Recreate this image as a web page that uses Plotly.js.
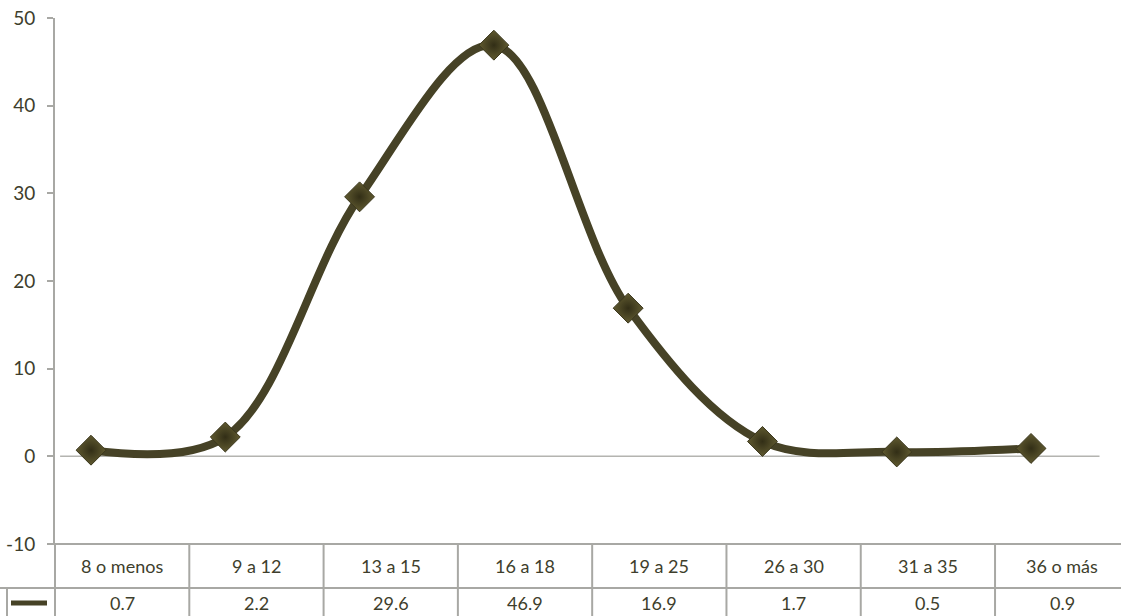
<!DOCTYPE html>
<html>
<head>
<meta charset="utf-8">
<script src="https://cdn.plot.ly/plotly-3.0.1.min.js"></script>
<style>html,body{margin:0;padding:0;background:#fff;}#chart{width:1121px;height:616px;}</style>
</head>
<body>
<div id="chart"></div>
<script>
// Data
const categories = ["8 o menos", "9 a 12", "13 a 15", "16 a 18", "19 a 25", "26 a 30", "31 a 35", "36 o más"];
const values = [0.7, 2.2, 29.6, 46.9, 16.9, 1.7, 0.5, 0.9];
const valueLabels = ["0.7", "2.2", "29.6", "46.9", "16.9", "1.7", "0.5", "0.9"];
const yTicks = [-10, 0, 10, 20, 30, 40, 50];

// Layout geometry (pixels)
const W = 1121, H = 616;
const mL = 55, mR = 0, mT = 18, mB = 72;
const plotH = H - mT - mB;
const plotW = W - mL - mR;
const pyToPaper = py => (H - mB - py) / plotH;
const pxToPaper = px => (px - mL) / plotW;

const lineColor = "rgb(70,66,38)";
const gridGray = "#a8a8a4";
const textColor = "rgb(62,62,44)";
const fontFam = "Lato, 'Open Sans', sans-serif";
const colOffset = 0.232; // table cell centre relative to category point

const xIdx = categories.map((c, i) => i);

const trace = {
  x: xIdx,
  y: values,
  type: "scatter",
  mode: "lines+markers",
  line: {color: lineColor, width: 8, shape: "spline", smoothing: 1.0},
  marker: {symbol: "diamond", size: 23, color: "rgb(96,90,48)",
           gradient: {type: "radial", color: "rgb(50,46,22)"},
           line: {color: "rgb(58,54,28)", width: 1}},
  hoverinfo: "x+y",
  showlegend: false,
  cliponaxis: false
};

const shapes = [];
const annotations = [];
const lineStyle = {color: gridGray, width: 2};

// zero line of the category axis
shapes.push({type: "line", xref: "x", yref: "y", x0: -0.23, x1: 7.51, y0: 0, y1: 0,
             line: {color: "#b4b4b0", width: 1.5}, layer: "below"});

// table horizontal lines
const yHeadTop = pyToPaper(544), yRowTop = pyToPaper(588), yBot = pyToPaper(616);
shapes.push({type: "line", xref: "paper", yref: "paper", x0: pxToPaper(47), x1: 1, y0: yHeadTop, y1: yHeadTop, line: lineStyle});
shapes.push({type: "line", xref: "paper", yref: "paper", x0: pxToPaper(0), x1: 1, y0: yRowTop, y1: yRowTop, line: lineStyle});
// table vertical lines
for (let i = 1; i <= categories.length; i++) {
  const xb = i - 0.5 + colOffset;
  shapes.push({type: "line", xref: "x", yref: "paper", x0: xb, x1: xb, y0: yHeadTop, y1: yBot, line: lineStyle});
}
// left border continuing the y axis, and legend cell border
shapes.push({type: "line", xref: "paper", yref: "paper", x0: 0, x1: 0, y0: yHeadTop, y1: yBot, line: lineStyle});
shapes.push({type: "line", xref: "paper", yref: "paper", x0: pxToPaper(7), x1: pxToPaper(7), y0: yRowTop, y1: yBot, line: lineStyle});
// legend key
shapes.push({type: "line", xref: "paper", yref: "paper", x0: pxToPaper(11), x1: pxToPaper(47), y0: pyToPaper(603), y1: pyToPaper(603),
             line: {color: lineColor, width: 5}});

categories.forEach((c, i) => {
  annotations.push({xref: "x", yref: "paper", x: i + colOffset, y: pyToPaper(566), text: c, showarrow: false,
                    xanchor: "center", yanchor: "middle", font: {family: fontFam, size: 18, color: textColor}});
  annotations.push({xref: "x", yref: "paper", x: i + colOffset, y: pyToPaper(603), text: valueLabels[i], showarrow: false,
                    xanchor: "center", yanchor: "middle", font: {family: fontFam, size: 18, color: textColor}});
});

const x0px = 91, spacing = 134.29;
const layout = {
  width: W, height: H,
  margin: {l: mL, r: mR, t: mT, b: mB, pad: 0},
  paper_bgcolor: "#fff", plot_bgcolor: "#fff",
  showlegend: false,
  xaxis: {range: [(mL - x0px) / spacing, (W - mR - x0px) / spacing], showgrid: false, zeroline: false,
          showticklabels: false, showline: false, ticks: ""},
  yaxis: {range: [-10, 50], tickvals: yTicks, ticktext: yTicks.map(String), showgrid: false, zeroline: false,
          showline: true, linecolor: gridGray, linewidth: 2, ticks: "outside", ticklen: 6, tickwidth: 2, tickcolor: gridGray,
          ticklabelstandoff: 8,
          tickfont: {family: fontFam, size: 19, color: textColor}},
  shapes: shapes,
  annotations: annotations
};

Plotly.newPlot("chart", [trace], layout, {displayModeBar: false, staticPlot: true});
</script>
</body>
</html>
